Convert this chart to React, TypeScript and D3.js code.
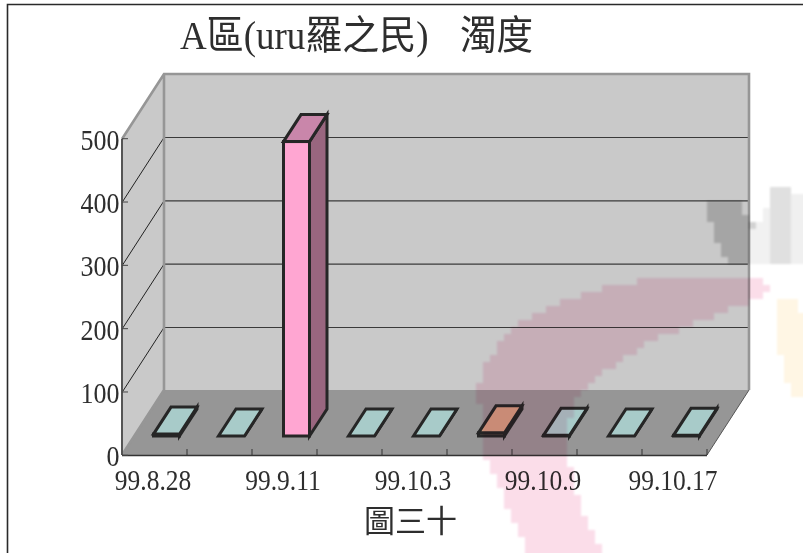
import React from 'react';
import * as d3 from 'd3';

const title = 'A區(uru羅之民)';
const titleUnit = '濁度';
const caption = '圖三十';
const axisLabels = ['99.8.28', '', '99.9.11', '', '99.10.3', '', '99.10.9', '', '99.10.17'];
const turbidity = [3, 0, 465, 0, 0, 5, 1, 0, 1];
const yTicks = [0, 100, 200, 300, 400, 500];
const faceColors = ['#a8cbc9', '#a8cbc9', '#ffa6d2', '#a8cbc9', '#a8cbc9', '#cda181', '#a8cbc9', '#a8cbc9', '#a8cbc9'];
const topColors = ['#a8cbc9', '#a8cbc9', '#c986aa', '#a8cbc9', '#a8cbc9', '#cda181', '#a8cbc9', '#a8cbc9', '#a8cbc9'];
const sideColors = ['#6f8786', '#6f8786', '#99667f', '#6f8786', '#6f8786', '#896b56', '#6f8786', '#6f8786', '#6f8786'];

// Faded logo behind the plot, outlined on a coarse grid so it renders as blocks.
const logoArc: [number, number][] = [[775, 283], [740, 277], [660, 277], [593, 290], [537, 312], [502, 337], [485, 367], [479, 387], [480, 425], [486, 460], [500, 490], [520, 533], [530, 560], [606, 560], [577, 497], [566, 447], [573, 400], [603, 373], [647, 343], [693, 323], [750, 303], [768, 290]];
const logoDark: [number, number][] = [[708, 203], [740, 203], [748, 217], [754, 227], [754, 267], [732, 267], [712, 232]];
const logoLight: [number, number][] = [[768, 188], [790, 188], [790, 267], [768, 267]];
const logoFaint: [number, number][] = [[752, 232], [768, 205], [768, 267], [752, 267]];
const logoEdge: [number, number][] = [[793, 195], [803, 195], [803, 265], [793, 265]];
const logoSun: [number, number][] = [[775, 300], [800, 300], [803, 320], [803, 400], [790, 395], [780, 350]];

const W = 803;
const H = 553;
const FRONT_LEFT = 122;
const FRONT_RIGHT = 707;
const FRONT_BOTTOM = 455;
const WALL_DX = 42;
const WALL_DY = -65;
const BAR_WIDTH = 26;
const BAR_DX = 17.5;
const BAR_DY = -27;
const BAR_INSET_X = 12;
const BAR_INSET_Y = -19;
const INK = '#2e2e2e';

const xBand = d3.scaleBand<number>().domain(d3.range(turbidity.length)).range([FRONT_LEFT, FRONT_RIGHT]);
const yFront = d3.scaleLinear().domain([0, 500]).range([455.8, 139.2]);

const pts = (p: [number, number][]) => p.map((q) => q.join(',')).join(' ');

function Blocks({ shape, fill, step = 7 }: { shape: [number, number][]; fill: string; step?: number }) {
  const cells: [number, number][] = [];
  for (let x = 455; x < W; x += step) {
    for (let y = 180; y < H; y += step) {
      if (d3.polygonContains(shape, [x + step / 2, y + step / 2])) cells.push([x, y]);
    }
  }
  return (
    <g fill={fill} shapeRendering="crispEdges">
      {cells.map(([x, y]) => (
        <rect key={`${x}-${y}`} x={x} y={y} width={step} height={step} />
      ))}
    </g>
  );
}

function Stretched({ x, y, size, sy, anchor = 'middle', children }: { x: number; y: number; size: number; sy: number; anchor?: string; children: React.ReactNode }) {
  return (
    <text
      transform={`translate(${x},${y}) scale(1,${sy})`}
      fontSize={size}
      textAnchor={anchor}
      fill={INK}
      fontFamily="'Liberation Serif','Noto Sans CJK TC',serif"
    >
      {children}
    </text>
  );
}

export default function App() {
  const backLeft = FRONT_LEFT + WALL_DX;
  const backRight = FRONT_RIGHT + WALL_DX;
  const backBottom = FRONT_BOTTOM + WALL_DY;
  const frontTop = 139;
  const backTop = frontTop + WALL_DY;

  return (
    <svg width={W} height={H} style={{ position: 'absolute', left: 0, top: 0, background: '#fff' }}>
      <defs>
        <filter id="logoSoft" x="-5%" y="-5%" width="110%" height="110%">
          <feGaussianBlur stdDeviation="1.2" />
        </filter>
      </defs>

      {/* frame */}
      <path d={`M7.5,${H} V4.5 H${W}`} fill="none" stroke="#2a2a2a" strokeWidth={1.6} />

      {/* walls and floor */}
      <rect x={backLeft} y={backTop} width={backRight - backLeft} height={backBottom - backTop} fill="#c9c9c9" />
      <polygon
        points={pts([[FRONT_LEFT, frontTop], [backLeft, backTop], [backLeft, backBottom], [FRONT_LEFT, FRONT_BOTTOM]])}
        fill="#c9c9c9"
      />
      <polygon
        points={pts([[FRONT_LEFT, FRONT_BOTTOM], [FRONT_RIGHT, FRONT_BOTTOM], [backRight, backBottom], [backLeft, backBottom]])}
        fill="#969696"
      />

      {/* gridlines running along the back wall and down the side wall */}
      {yTicks.slice(1, -1).map((t) => {
        const y = yFront(t) + WALL_DY;
        return <line key={`b${t}`} x1={backLeft} x2={backRight} y1={y} y2={y} stroke="#3a3a3a" strokeWidth={1.2} />;
      })}
      {yTicks.slice(1).map((t) => {
        const y = yFront(t);
        return <line key={`s${t}`} x1={FRONT_LEFT} x2={backLeft} y1={y} y2={y + WALL_DY} stroke="#222" strokeWidth={1} />;
      })}

      {/* wall outlines */}
      <path
        d={`M${FRONT_LEFT},${frontTop} L${backLeft},${backTop} H${backRight} V${backBottom} M${backLeft},${backTop} V${backBottom} L${FRONT_LEFT},${FRONT_BOTTOM}`}
        fill="none"
        stroke="#969696"
        strokeWidth={2.6}
      />
      <line x1={FRONT_RIGHT} y1={FRONT_BOTTOM} x2={backRight} y2={backBottom} stroke="#555" strokeWidth={1} />

      {/* columns */}
      {turbidity.map((v, i) => {
        const x0 = (xBand(i) as number) + BAR_INSET_X + (xBand.bandwidth() - BAR_WIDTH) / 2;
        const x1 = x0 + BAR_WIDTH;
        const yb = FRONT_BOTTOM + BAR_INSET_Y;
        const yt = yb - (yFront(0) - yFront(v));
        return (
          <g key={i} stroke="#262626" strokeWidth={3} strokeLinejoin="miter">
            <rect x={x0} y={yt} width={BAR_WIDTH} height={yb - yt} fill={faceColors[i]} />
            <polygon points={pts([[x1, yb], [x1 + BAR_DX, yb + BAR_DY], [x1 + BAR_DX, yt + BAR_DY], [x1, yt]])} fill={sideColors[i]} />
            <polygon points={pts([[x0, yt], [x1, yt], [x1 + BAR_DX, yt + BAR_DY], [x0 + BAR_DX, yt + BAR_DY]])} fill={topColors[i]} />
          </g>
        );
      })}

      {/* axes */}
      <line x1={FRONT_LEFT} x2={FRONT_LEFT} y1={frontTop} y2={FRONT_BOTTOM} stroke="#555" strokeWidth={2} />
      <line x1={FRONT_LEFT} x2={FRONT_RIGHT} y1={FRONT_BOTTOM + 0.5} y2={FRONT_BOTTOM + 0.5} stroke="#333" strokeWidth={1.4} />
      {yTicks.map((t) => (
        <line key={t} x1={FRONT_LEFT} x2={FRONT_LEFT + 6} y1={yFront(t) - 0.5} y2={yFront(t) - 0.5} stroke="#444" strokeWidth={1} />
      ))}
      {d3.range(1, turbidity.length + 1).map((i) => {
        const x = FRONT_LEFT + i * xBand.bandwidth();
        return <line key={i} x1={x} x2={x} y1={FRONT_BOTTOM - 6} y2={FRONT_BOTTOM} stroke="#333" strokeWidth={1} />;
      })}

      {/* tick labels */}
      {yTicks.map((t) => (
        <Stretched key={t} x={119.5} y={yFront(t) + 10.5} size={26} sy={1.14} anchor="end">
          {t}
        </Stretched>
      ))}
      {axisLabels.map((label, i) =>
        label ? (
          <Stretched key={i} x={(xBand(i) as number) + xBand.bandwidth() / 2 - 1.5} y={490} size={25.5} sy={1.16}>
            {label}
          </Stretched>
        ) : null,
      )}

      {/* headings */}
      <Stretched x={180} y={48.5} size={37} sy={1.08} anchor="start">
        {title}
      </Stretched>
      <Stretched x={460} y={48.5} size={36.5} sy={1.08} anchor="start">
        {titleUnit}
      </Stretched>
      <Stretched x={410.5} y={532} size={31} sy={1}>
        {caption}
      </Stretched>

      {/* logo tints the plot it overlaps */}
      <g style={{ mixBlendMode: 'multiply' }} filter="url(#logoSoft)">
        <Blocks shape={logoArc} fill="#fbdde9" />
        <Blocks shape={logoDark} fill="#d2d2d2" />
        <Blocks shape={logoLight} fill="#e0e0e0" />
        <Blocks shape={logoFaint} fill="#f1f1f1" />
        <Blocks shape={logoEdge} fill="#f0f0f0" />
        <Blocks shape={logoSun} fill="#fff6e4" />
      </g>
    </svg>
  );
}
